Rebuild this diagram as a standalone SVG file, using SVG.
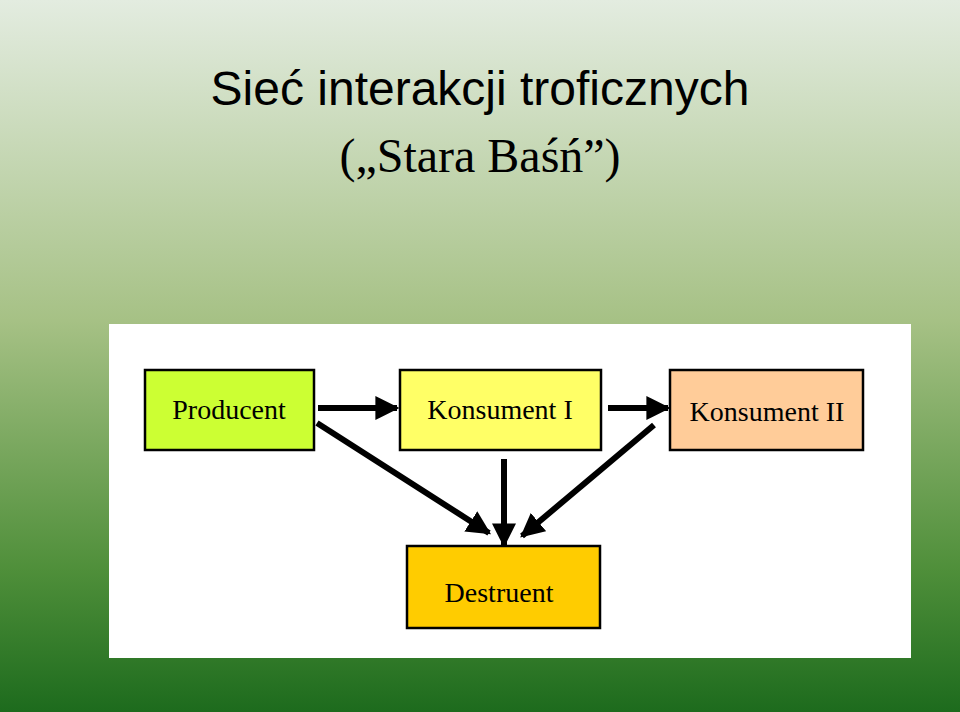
<svg xmlns="http://www.w3.org/2000/svg" width="960" height="712" viewBox="0 0 960 712">
<defs>
<linearGradient id="bg" x1="0" y1="0" x2="0" y2="1">
<stop offset="0" stop-color="#e3ece0"/><stop offset="0.45" stop-color="#a6c185"/><stop offset="0.8" stop-color="#4f8f3a"/><stop offset="1" stop-color="#1d6b1d"/>
</linearGradient>
<marker id="ah" viewBox="0 0 10 10" refX="9" refY="5" markerWidth="4" markerHeight="4" orient="auto" markerUnits="strokeWidth"><path d="M0,0 L10,5 L0,10 z" fill="#000"/></marker>
<style>
.box{stroke:#000;stroke-width:2.5}
.t{font-family:"Liberation Serif",serif;font-size:28px;text-anchor:middle;fill:#000}
.c{stroke:#000;stroke-width:6;fill:none;marker-end:url(#ah)}
</style>
</defs>
<rect width="960" height="712" fill="url(#bg)"/>
<text x="480" y="105" font-family="Liberation Sans,sans-serif" font-size="48" text-anchor="middle" fill="#000">Sieć interakcji troficznych</text>
<text x="480" y="172" font-family="Liberation Serif,serif" font-size="48" text-anchor="middle" fill="#000">(„Stara Baśń”)</text>
<rect x="109" y="324" width="802" height="334" fill="#fff"/>
<g id="producent"><rect class="box" x="145" y="370" width="169" height="80" fill="#ccff33"/><text class="t" x="229" y="419">Producent</text></g>
<g id="konsument1"><rect class="box" x="400" y="370" width="201" height="80" fill="#ffff66"/><text class="t" x="500" y="419">Konsument I</text></g>
<g id="konsument2"><rect class="box" x="670" y="370" width="193" height="80" fill="#ffcc99"/><text class="t" x="767" y="421">Konsument II</text></g>
<g id="destruent"><rect class="box" x="407" y="546" width="193" height="82" fill="#ffcc00"/><text class="t" x="499" y="602">Destruent</text></g>
<g id="connectors">
<line class="c" x1="318" y1="408" x2="397" y2="408"/>
<line class="c" x1="608" y1="408" x2="668" y2="408"/>
<line class="c" x1="317" y1="423" x2="489" y2="533"/>
<line class="c" x1="504" y1="459" x2="504" y2="545"/>
<line class="c" x1="654" y1="425" x2="522" y2="536"/>
</g>
</svg>
